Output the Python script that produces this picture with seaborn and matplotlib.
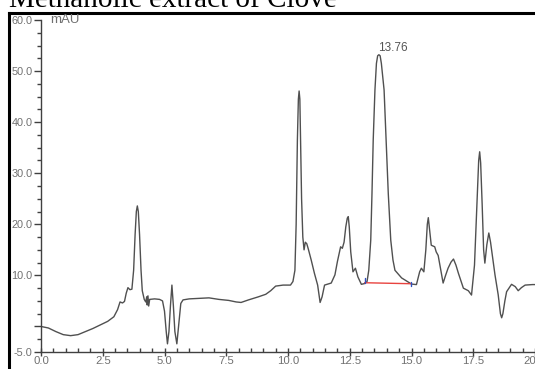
import numpy as np
import pandas as pd
import matplotlib
matplotlib.use("Agg")
import matplotlib.pyplot as plt
from matplotlib.lines import Line2D
from matplotlib.ticker import MultipleLocator, FixedLocator
import seaborn as sns

# ---- data ----
time_min = [0.0, 0.3, 0.6, 0.9, 1.2, 1.5, 1.8, 2.1, 2.4, 2.7, 2.95, 3.1, 3.2, 3.3, 3.38,
            3.45, 3.52, 3.6, 3.68, 3.75, 3.81, 3.86, 3.9, 3.94, 3.99, 4.05, 4.1, 4.18, 4.24, 4.28,
            4.3, 4.33, 4.36, 4.4, 4.6, 4.8, 4.92, 5.0, 5.07, 5.12, 5.18, 5.24, 5.3, 5.36,
            5.42, 5.5, 5.58, 5.66, 5.75, 6.0, 6.4, 6.8, 7.2, 7.6, 7.9, 8.1, 8.4, 8.8, 9.1,
            9.3, 9.5, 9.8, 10.1, 10.2, 10.28, 10.33, 10.38, 10.42, 10.45, 10.48, 10.51, 10.55,
            10.6, 10.65, 10.7, 10.76, 10.82,
            10.94, 11.07, 11.2, 11.3, 11.38, 11.48, 11.75, 11.9, 12.0, 12.13, 12.2, 12.27,
            12.34, 12.4, 12.44, 12.48, 12.54, 12.63, 12.73, 12.83, 12.97, 13.1, 13.2, 13.27,
            13.35, 13.4, 13.45, 13.52, 13.58, 13.63, 13.68, 13.73, 13.78, 13.89, 13.97, 14.06,
            14.16, 14.25, 14.33, 14.6, 14.9, 15.0, 15.2, 15.33, 15.4, 15.5, 15.58, 15.64, 15.68,
            15.72, 15.8, 15.94,
            16.0, 16.08, 16.15, 16.28, 16.38, 16.48, 16.6, 16.7, 16.8, 16.9, 17.1, 17.3,
            17.43, 17.55, 17.65, 17.72, 17.76, 17.8, 17.86, 17.92, 17.97, 18.05, 18.13, 18.2,
            18.38, 18.51, 18.6, 18.65, 18.7, 18.78, 18.85, 19.05, 19.2, 19.32, 19.45, 19.6,
            19.9, 20.0]
absorbance_mau = [0.0, -0.3, -1.0, -1.6, -1.8, -1.6, -1.0, -0.4, 0.3, 1.0, 1.9, 3.3, 4.8, 4.6, 4.9,
                  6.5, 7.6, 7.2, 7.3, 11.0, 18.0, 22.5, 23.6, 22.5, 18.0, 11.0, 7.0, 5.3, 4.8, 5.8,
                  4.2, 6.0, 4.0, 5.3, 5.4, 5.3, 5.0, 3.0, -1.0, -3.4, -1.0, 4.0, 8.1, 4.0,
                  -1.0, -3.4, 0.5, 4.5, 5.2, 5.4, 5.5, 5.6, 5.3, 5.1, 4.8, 4.7, 5.2, 5.8, 6.3,
                  7.0, 7.9, 8.1, 8.1, 8.8, 11.0, 20.0, 36.5, 44.5, 46.1, 44.5, 36.5, 25.0,
                  17.5, 15.0, 16.5, 16.2, 15.2,
                  13.0, 10.4, 8.1, 4.7, 5.8, 8.1, 8.5, 10.1, 12.7, 15.6, 15.3, 16.5,
                  19.5, 21.2, 21.5, 19.5, 14.6, 10.7, 11.4, 9.7, 8.25, 8.4, 8.8, 11.0,
                  16.9, 26.0, 36.5, 46.3, 51.5, 53.0, 53.2, 53.0, 51.5, 46.3, 36.5, 26.0,
                  16.9, 13.0, 11.0, 9.5, 8.6, 8.3, 8.2, 10.7, 11.4, 10.7, 15.0, 20.0, 21.3,
                  19.5, 15.9, 15.6,
                  14.6, 13.9, 12.0, 8.5, 10.0, 11.4, 12.6, 13.2, 12.0, 10.4, 7.5, 7.0,
                  6.15, 12.0, 24.0, 32.5, 34.2, 32.0, 24.0, 15.0, 12.4, 16.0, 18.3, 16.5,
                  10.1, 6.2, 2.5, 1.7, 2.5, 5.0, 6.8, 8.25, 7.8, 7.0, 7.6, 8.1,
                  8.2, 8.2]

peak_label = "13.76"
peak_label_pos = [13.63, 54.6]
baseline_x = [13.1, 14.96]
baseline_y = [8.56, 8.37]

x_ticks = [0.0, 2.5, 5.0, 7.5, 10.0, 12.5, 15.0, 17.5, 20.0]
x_tick_labels = ["0.0", "2.5", "5.0", "7.5", "10.0", "12.5", "15.0", "17.5", "20.0"]
y_ticks = [-5.0, 0.0, 10.0, 20.0, 30.0, 40.0, 50.0, 60.0]
y_tick_labels = ["-5.0", "", "10.0", "20.0", "30.0", "40.0", "50.0", "60.0"]

title_text = "Methanolic extract of Clove"
y_unit = "mAU"

# ---- figure ----
sns.set_style("white")
plt.rcParams["font.family"] = ["Liberation Sans", "DejaVu Sans"]

W, H = 535, 369
fig = plt.figure(figsize=(W / 100, H / 100), dpi=100)
ax = fig.add_axes([41 / W, 1 - 352 / H, 1 - 41 / W, (352 - 20) / H])

df = pd.DataFrame({"time": time_min, "mAU": absorbance_mau})
sns.lineplot(data=df, x="time", y="mAU", ax=ax, color="#505050", linewidth=1.0,
             sort=False, estimator=None)

ax.plot(baseline_x, baseline_y, color="#e8433f", linewidth=1.0)
ax.plot([baseline_x[0], baseline_x[0]], [baseline_y[0], baseline_y[0] + 1.0],
        color="#3050c0", linewidth=1.0)
ax.plot([baseline_x[1], baseline_x[1]], [baseline_y[1] - 0.5, baseline_y[1] + 0.3],
        color="#3050c0", linewidth=1.0)

ax.text(peak_label_pos[0], peak_label_pos[1], peak_label, ha="left", va="center",
        fontsize=8.5, color="#555555")

ax.set_xlim(0, 20)
ax.set_ylim(-5, 60)
ax.set_xlabel("")
ax.set_ylabel("")
ax.xaxis.set_major_locator(FixedLocator(x_ticks))
ax.set_xticklabels(x_tick_labels)
ax.xaxis.set_minor_locator(MultipleLocator(0.5))
ax.yaxis.set_major_locator(FixedLocator(y_ticks))
ax.set_yticklabels(y_tick_labels)
ax.yaxis.set_minor_locator(MultipleLocator(2.5))

for s in ["top", "right"]:
    ax.spines[s].set_visible(False)
for s in ["left", "bottom"]:
    ax.spines[s].set_color("#404040")
    ax.spines[s].set_linewidth(1.0)

ax.tick_params(axis="y", which="both", left=True)
ax.tick_params(axis="x", which="both", bottom=True)
ax.tick_params(axis="y", which="major", direction="out", length=5, width=1,
               color="#404040", labelsize=7.8, labelcolor="#707070", pad=1)
ax.tick_params(axis="y", which="minor", direction="out", length=3, width=1,
               color="#404040")
ax.tick_params(axis="x", which="major", direction="inout", length=6, width=1,
               color="#404040", labelsize=8.2, labelcolor="#707070", pad=0)
ax.tick_params(axis="x", which="minor", direction="in", length=3, width=1,
               color="#404040")

fig.text(50 / W, 1 - 14 / H, y_unit, ha="left", va="top", fontsize=9.5, color="#707070")

fig.text(9 / W, 1 - 7 / H, title_text, ha="left", va="baseline",
         fontsize=21, family=["Liberation Serif", "DejaVu Serif"], color="black")

# outer frame lines (left and top)
fig.add_artist(Line2D([9 / W, 9 / W], [0, 1 - 12.5 / H], transform=fig.transFigure,
                      color="black", linewidth=2.2, solid_capstyle="projecting"))
fig.add_artist(Line2D([9 / W, 1], [1 - 12.5 / H, 1 - 12.5 / H], transform=fig.transFigure,
                      color="black", linewidth=2.2, solid_capstyle="projecting"))

fig.savefig("out.png", dpi=100, facecolor="white")
